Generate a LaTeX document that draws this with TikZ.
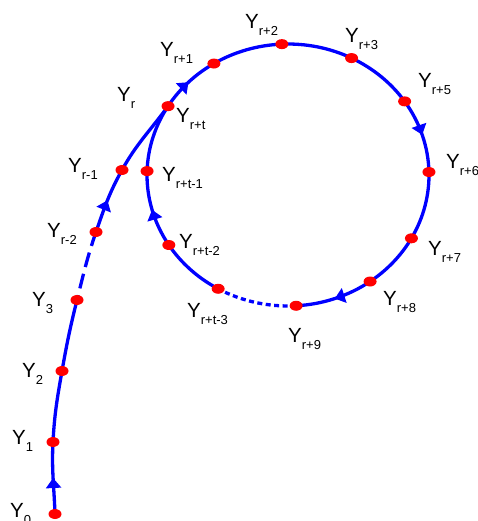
\documentclass[tikz,border=0pt]{standalone}
\usepackage{fontspec}
\setmainfont{Liberation Sans}
\usetikzlibrary{shapes.geometric,arrows.meta,decorations.markings,backgrounds}
\definecolor{lineblue}{RGB}{0,0,255}
\definecolor{dotred}{RGB}{255,0,0}
\newcommand{\ylab}[1]{Y\raisebox{-7pt}{\fontsize{13}{13}\selectfont #1}}
\begin{document}
\begin{tikzpicture}[x=1pt,y=1pt,
  dot/.style={ellipse,fill=dotred,draw=none,inner sep=0pt,minimum width=13pt,minimum height=10pt},
  lab/.style={anchor=base west,inner sep=0pt,font=\fontsize{20.5}{24}\selectfont},
  curve/.style={draw=lineblue,line width=3.3pt},
  midarrow/.style={postaction={decorate,decoration={markings,
     mark=at position 0.5 with {\arrow[lineblue]{Triangle[length=10pt,width=15pt]}}}}},
  longdash/.style={dash pattern=on 15pt off 7pt,dash phase=-12pt},
  shortdash/.style={dash pattern=on 5pt off 3.5pt},
  ell/.style={x radius=141pt,y radius=131pt}
]
\useasboundingbox (0,0) rectangle (478,-521);
% tail dots
\node[dot] (y0)  at (55,-514) {};
\node[dot] (y1)  at (53,-442) {};
\node[dot] (y2)  at (62,-371) {};
\node[dot] (y3)  at (77,-300) {};
\node[dot] (yrm2) at (96,-232) {};
\node[dot] (yrm1) at (122,-170) {};
% loop dots on the ellipse, centre (288,-175)
\node[dot] (yr)   at ({288+141*cos(148.3)},{-175+131*sin(148.3)}) {};
\node[dot] (yr1)  at ({288+141*cos(121.7)},{-175+131*sin(121.7)}) {};
\node[dot] (yr2)  at ({288+141*cos(92.5)},{-175+131*sin(92.5)}) {};
\node[dot] (yr3)  at ({288+141*cos(63.2)},{-175+131*sin(63.2)}) {};
\node[dot] (yr5)  at ({288+141*cos(34.2)},{-175+131*sin(34.2)}) {};
\node[dot] (yr6)  at ({288+141*cos(1.3)},{-175+131*sin(1.3)}) {};
\node[dot] (yr7)  at ({288+141*cos(-28.9)},{-175+131*sin(-28.9)}) {};
\node[dot] (yr8)  at ({288+141*cos(-54.4)},{-175+131*sin(-54.4)}) {};
\node[dot] (yr9)  at ({288+141*cos(-86.7)},{-175+131*sin(-86.7)}) {};
\node[dot] (yrt3) at ({288+141*cos(-119.7)},{-175+131*sin(-119.7)}) {};
\node[dot] (yrt2) at ({288+141*cos(-147.7)},{-175+131*sin(-147.7)}) {};
\node[dot] (yrt1) at ({288+141*cos(-181.7)},{-175+131*sin(-181.7)}) {};

\begin{pgfonlayer}{background}
% tail
\draw[curve,midarrow] (y0.center) to[out=92,in=267] (y1.center);
\draw[curve] (y1.center) to[out=87,in=260] (y2.center);
\draw[curve] (y2.center) to[out=80,in=256] (y3.center);
\draw[curve,longdash] (y3.center) to[out=76,in=251] (yrm2.center);
\draw[curve,midarrow] (yrm2.center) to[out=71,in=241] (yrm1.center);
\draw[curve] (yrm1.center) to[out=61,in=234] (yr.center);
% loop
\draw[curve,midarrow] (yr.center) arc[ell,start angle=148.3,end angle=121.7];
\draw[curve] (yr1.center) arc[ell,start angle=121.7,end angle=92.5];
\draw[curve] (yr2.center) arc[ell,start angle=92.5,end angle=63.2];
\draw[curve] (yr3.center) arc[ell,start angle=63.2,end angle=34.2];
\draw[curve,midarrow] (yr5.center) arc[ell,start angle=34.2,end angle=1.3];
\draw[curve] (yr6.center) arc[ell,start angle=1.3,end angle=-28.9];
\draw[curve] (yr7.center) arc[ell,start angle=-28.9,end angle=-54.4];
\draw[curve,midarrow] (yr8.center) arc[ell,start angle=-54.4,end angle=-86.7];
\draw[curve,shortdash] (yr9.center) arc[ell,start angle=-86.7,end angle=-119.7];
\draw[curve] (yrt3.center) arc[ell,start angle=-119.7,end angle=-147.7];
\draw[curve,midarrow] (yrt2.center) arc[ell,start angle=-147.7,end angle=-181.7];
\draw[curve] (yrt1.center) arc[ell,start angle=-181.7,end angle=-211.7];
\end{pgfonlayer}

% labels
\node[lab] (l0)   at (10,-517) {\ylab{0}};
\node[lab] (l1)   at (12,-444) {\ylab{1}};
\node[lab] (l2)   at (22,-377) {\ylab{2}};
\node[lab] (l3)   at (32,-306) {\ylab{3}};
\node[lab] (lrm2) at (47,-237) {\ylab{r-2}};
\node[lab] (lrm1) at (68,-173) {\ylab{r-1}};
\node[lab] (lr)   at (117,-102) {\ylab{r}};
\node[lab] (lrt)  at (176,-123) {\ylab{r+t}};
\node[lab] (lrt1) at (162,-182) {\ylab{r+t-1}};
\node[lab] (lrt2) at (179,-248) {\ylab{r+t-2}};
\node[lab] (lrt3) at (187,-317) {\ylab{r+t-3}};
\node[lab] (lr1)  at (160,-57) {\ylab{r+1}};
\node[lab] (lr2)  at (245,-29) {\ylab{r+2}};
\node[lab] (lr3)  at (345,-43) {\ylab{r+3}};
\node[lab] (lr5)  at (418,-88) {\ylab{r+5}};
\node[lab] (lr6)  at (446,-169) {\ylab{r+6}};
\node[lab] (lr7)  at (428,-255) {\ylab{r+7}};
\node[lab] (lr8)  at (383,-305) {\ylab{r+8}};
\node[lab] (lr9)  at (288,-342) {\ylab{r+9}};
\end{tikzpicture}
\end{document}
